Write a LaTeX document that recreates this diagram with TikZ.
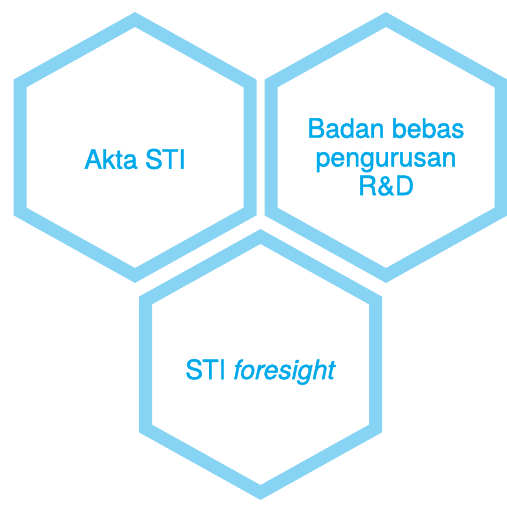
\documentclass[tikz,border=0pt]{standalone}
\usepackage{fontspec}
\setmainfont{TeX Gyre Heros}
\newfontfamily\hexfont{TeX Gyre Heros}[FakeBold=1.6]
\usetikzlibrary{positioning}
\definecolor{hexline}{HTML}{86D3F4}
\definecolor{hextext}{HTML}{00AAEA}

\begin{document}
\begin{tikzpicture}[x=0.75pt,y=0.75pt,
  hexcell/.style={draw=hexline,fill=white,line width=9.75pt,line join=miter},
  hexlabel/.style={font=\hexfont\fontsize{20}{21.5}\selectfont,text=hextext,align=center}]
  \useasboundingbox (0,0) rectangle (507,505);
  % three hexagon cells, pointy top
  \foreach \cx/\cy in {135/357.5,386/357.5,260.5/140.5}
    \draw[hexcell] (\cx,\cy+128) -- ++(115,-64) -- ++(0,-128) -- ++(-115,-64)
      -- ++(-115,64) -- ++(0,128) -- cycle;
  \node[hexlabel] (akta) at (135,346) {Akta STI};
  \node[hexlabel] (badan) at (386,348) {Badan bebas\\pengurusan\\R\&D};
  \node[hexlabel] (foresight) at (260.5,133) {STI \textit{foresight}};
\end{tikzpicture}
\end{document}
